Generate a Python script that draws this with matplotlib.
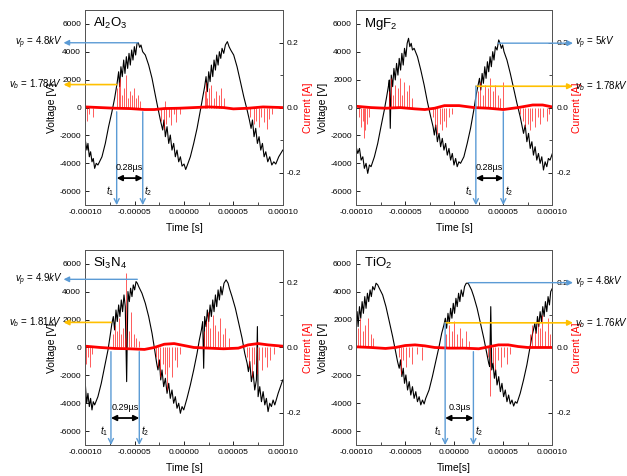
import numpy as np
import matplotlib.pyplot as plt
from matplotlib import ticker
from matplotlib.transforms import blended_transform_factory

plt.rcParams['font.family'] = ['Liberation Sans', 'DejaVu Sans']
plt.rcParams['mathtext.fontset'] = 'custom'
plt.rcParams['mathtext.rm'] = 'Liberation Sans'
plt.rcParams['mathtext.it'] = 'Liberation Sans:italic'
plt.rcParams['axes.unicode_minus'] = False

# time in units of 1e-5 s, voltage in kV, current in A

al_volt = [(-10.00, -2.33), (-9.83, -3.05), (-9.73, -2.57), (-9.59, -3.53), (-9.46, -3.17), (-9.32, -3.89),
           (-9.19, -3.65), (-9.05, -4.36), (-8.89, -4.00), (-8.72, -4.12), (-8.31, -3.53), (-7.97, -2.57),
           (-7.64, -1.37), (-7.30, -0.30), (-7.03, 0.66), (-6.79, 1.69), (-6.62, 2.57), (-6.52, 1.50),
           (-6.39, 2.93), (-6.25, 2.22), (-6.11, 3.41), (-5.98, 2.45), (-5.84, 3.65), (-5.71, 2.81),
           (-5.57, 3.89), (-5.44, 3.05), (-5.30, 4.13), (-5.17, 3.41), (-5.03, 4.37), (-4.90, 3.77),
           (-4.76, 4.61), (-4.63, 4.66), (-4.49, 4.32), (-4.36, 4.49), (-4.19, 4.01), (-3.92, 3.77),
           (-3.58, 3.05), (-3.24, 2.10), (-2.91, 0.90), (-2.64, -0.06), (-2.36, -1.01), (-2.16, -1.61),
           (-2.03, -0.89), (-1.89, -2.09), (-1.72, -1.37), (-1.55, -2.57), (-1.39, -1.97), (-1.22, -3.05),
           (-1.05, -2.57), (-0.88, -3.53), (-0.71, -3.05), (-0.54, -3.89), (-0.37, -3.53), (-0.20, -4.20),
           (0.00, -4.05), (0.17, -4.44), (0.34, -4.12), (0.64, -3.53), (0.98, -2.57), (1.32, -1.49),
           (1.66, -0.18), (1.89, 0.73), (2.09, 1.50), (2.23, 2.22), (2.36, 1.14), (2.50, 2.57),
           (2.64, 1.86), (2.77, 3.05), (2.91, 2.22), (3.04, 3.41), (3.18, 2.69), (3.31, 3.77),
           (3.45, 3.05), (3.58, 4.01), (3.72, 3.53), (3.85, 4.25), (4.02, 3.89), (4.19, 4.49),
           (4.39, 4.73), (4.56, 4.37), (4.73, 4.13), (5.03, 3.77), (5.37, 2.93), (5.71, 1.86),
           (6.05, 0.78), (6.39, -0.18), (6.62, -0.89), (6.79, -1.49), (6.93, -0.89), (7.09, -2.09),
           (7.26, -1.49), (7.43, -2.57), (7.60, -2.09), (7.77, -3.05), (7.94, -2.57), (8.11, -3.53),
           (8.28, -3.17), (8.48, -3.89), (8.68, -3.53), (8.89, -4.12), (9.09, -3.89), (9.29, -4.05),
           (9.59, -3.53), (10.00, -3.05)]
al_base = [(-10, 0.002), (-8.5, 0.0), (-7, -0.002), (-5.5, -0.003), (-4, -0.006), (-3, -0.006),
           (-2, -0.003), (-0.5, -0.002), (1, 0.0), (2.5, 0.002), (4, 0.0), (5, -0.004),
           (6.5, -0.002), (8, 0.002), (10, 0.0)]
al_spikes = [(-9.83, -0.04), (-9.59, -0.02), (-9.26, -0.03), (-6.79, 0.06), (-6.62, 0.08), (-6.45, 0.09),
             (-6.28, 0.04), (-6.11, 0.06), (-5.88, 0.10), (-5.68, 0.03), (-5.51, 0.05), (-5.27, 0.04),
             (-5.03, 0.06), (-4.86, 0.03), (-4.66, 0.04), (-4.43, 0.02), (-2.30, -0.04), (-2.06, -0.065),
             (-1.96, 0.02), (-1.82, -0.05), (-1.55, -0.03), (-1.28, -0.055), (-1.05, -0.02), (-0.81, -0.045),
             (-0.37, -0.02), (2.09, 0.05), (2.23, 0.08), (2.36, 0.03), (2.57, 0.06), (2.77, 0.07),
             (3.01, 0.03), (3.24, 0.05), (3.51, 0.04), (3.78, 0.06), (4.02, 0.03), (6.72, -0.03),
             (7.06, -0.05), (7.30, -0.04), (7.57, -0.06), (7.84, -0.03), (8.07, -0.045), (8.41, -0.065),
             (8.65, -0.035), (8.92, -0.02)]

mg_volt = [(-10.00, -2.81), (-9.83, -3.29), (-9.66, -2.93), (-9.49, -3.77), (-9.32, -3.53), (-9.16, -4.36),
           (-8.99, -4.00), (-8.82, -4.72), (-8.65, -4.12), (-8.48, -4.24), (-8.14, -3.53), (-7.80, -2.57),
           (-7.47, -1.37), (-7.13, -0.18), (-6.89, 0.78), (-6.69, 1.62), (-6.62, 1.98), (-6.52, -1.49),
           (-6.42, 2.33), (-6.28, 1.50), (-6.15, 2.81), (-6.01, 1.98), (-5.88, 3.17), (-5.74, 2.33),
           (-5.61, 3.53), (-5.47, 2.69), (-5.34, 3.89), (-5.20, 3.05), (-5.07, 4.25), (-4.93, 3.65),
           (-4.80, 4.61), (-4.66, 4.97), (-4.53, 4.37), (-4.39, 4.61), (-4.26, 4.13), (-4.09, 4.25),
           (-3.75, 3.65), (-3.41, 2.69), (-3.07, 1.62), (-2.74, 0.42), (-2.40, -0.66), (-2.16, -1.37),
           (-2.03, -1.97), (-1.89, -1.25), (-1.72, -2.45), (-1.55, -1.85), (-1.39, -2.81), (-1.22, -2.21),
           (-1.05, -3.05), (-0.88, -2.57), (-0.71, -3.41), (-0.54, -2.93), (-0.37, -3.77), (-0.20, -3.29),
           (-0.03, -4.12), (0.14, -3.65), (0.30, -4.24), (0.47, -3.89), (0.64, -4.00), (0.98, -3.53),
           (1.32, -2.57), (1.66, -1.49), (1.99, -0.18), (2.23, 0.90), (2.43, 1.62), (2.57, 2.10),
           (2.70, 1.26), (2.84, 2.45), (2.97, 1.74), (3.11, 2.93), (3.24, 2.10), (3.38, 3.29),
           (3.51, 2.57), (3.65, 3.65), (3.78, 2.93), (3.92, 4.01), (4.05, 3.41), (4.19, 4.37),
           (4.36, 4.13), (4.53, 4.85), (4.66, 4.61), (4.80, 4.25), (4.93, 4.49), (5.07, 4.01),
           (5.37, 3.41), (5.71, 2.45), (6.05, 1.38), (6.39, 0.30), (6.72, -0.66), (6.89, -1.25),
           (7.06, -1.85), (7.23, -1.25), (7.40, -2.45), (7.57, -1.85), (7.74, -2.93), (7.91, -2.45),
           (8.07, -3.41), (8.24, -2.81), (8.41, -3.77), (8.58, -3.29), (8.75, -4.00), (8.92, -3.53),
           (9.09, -4.48), (9.26, -3.89), (9.43, -4.24), (9.59, -3.65), (9.76, -3.77), (10.00, -3.29)]
mg_base = [(-10, 0.004), (-8.5, 0.0), (-7, -0.002), (-5.5, 0.0), (-4, -0.004), (-3, -0.006),
           (-2, -0.002), (-1, 0.006), (0.5, 0.006), (2, 0.0), (3.5, -0.002), (5, -0.006),
           (6.5, 0.0), (8, 0.008), (9, 0.008), (10, 0.002)]
mg_spikes = [(-9.73, -0.03), (-9.49, -0.06), (-9.26, -0.04), (-9.16, -0.095), (-9.05, -0.07), (-8.89, -0.05),
             (-8.65, -0.03), (-6.62, 0.05), (-6.45, 0.09), (-6.22, 0.04), (-6.01, 0.07), (-5.78, 0.06),
             (-5.54, 0.09), (-5.34, 0.04), (-5.10, 0.08), (-4.86, 0.05), (-4.59, 0.07), (-4.32, 0.03),
             (-2.16, -0.03), (-1.96, -0.06), (-1.72, -0.08), (-1.49, -0.05), (-1.28, -0.07), (-1.05, -0.04),
             (-0.81, -0.06), (-0.54, -0.03), (-0.20, -0.02), (2.43, 0.05), (2.67, 0.08), (2.91, 0.04),
             (3.18, 0.07), (3.45, 0.06), (3.68, 0.09), (3.92, 0.05), (4.19, 0.07), (4.46, 0.04),
             (4.70, 0.03), (4.93, 0.08), (6.72, -0.02), (6.96, -0.04), (7.23, -0.06), (7.50, -0.05),
             (7.74, -0.07), (7.97, -0.04), (8.24, -0.06), (8.51, -0.03), (8.78, -0.05), (9.09, -0.03),
             (9.43, -0.04), (9.66, -0.02)]

si_volt = [(-10.00, -2.57), (-9.86, -4.00), (-9.73, -3.29), (-9.59, -4.24), (-9.46, -3.65), (-9.32, -4.48),
           (-9.19, -3.89), (-9.05, -4.12), (-8.72, -3.53), (-8.38, -2.57), (-8.04, -1.37), (-7.70, -0.18),
           (-7.47, 0.90), (-7.30, 1.74), (-7.16, 2.22), (-7.03, 1.26), (-6.89, 2.69), (-6.76, 1.86),
           (-6.62, 3.05), (-6.49, 2.22), (-6.35, 3.41), (-6.22, 2.57), (-6.08, 3.77), (-5.95, 2.93),
           (-5.81, -2.45), (-5.68, 4.01), (-5.54, 3.29), (-5.41, 4.25), (-5.27, 3.65), (-5.14, 4.49),
           (-5.00, 4.13), (-4.86, 4.73), (-4.73, 4.61), (-4.59, 4.37), (-4.26, 3.89), (-3.92, 3.17),
           (-3.58, 2.22), (-3.24, 1.02), (-2.97, -0.18), (-2.77, -1.13), (-2.64, -1.61), (-2.50, -0.89),
           (-2.36, -2.33), (-2.23, -1.61), (-2.06, -2.81), (-1.89, -2.21), (-1.72, -3.29), (-1.55, -2.57),
           (-1.39, -3.65), (-1.22, -3.05), (-1.05, -4.00), (-0.88, -3.53), (-0.71, -4.36), (-0.54, -4.00),
           (-0.37, -4.72), (-0.20, -4.24), (-0.03, -4.48), (0.30, -3.65), (0.64, -2.69), (0.98, -1.61),
           (1.32, -0.42), (1.55, 0.54), (1.76, 1.26), (1.89, 1.86), (1.99, -1.49), (2.09, 2.22),
           (2.23, 1.50), (2.36, 2.69), (2.50, 1.86), (2.64, 3.05), (2.77, 2.22), (2.91, 3.41),
           (3.04, 2.57), (3.18, 3.77), (3.31, 2.93), (3.45, 4.13), (3.58, 3.41), (3.72, 4.37),
           (3.85, 3.77), (4.05, 4.61), (4.26, 4.85), (4.46, 4.61), (4.59, 4.25), (4.86, 3.65),
           (5.20, 2.81), (5.54, 1.74), (5.88, 0.66), (6.15, -0.42), (6.39, -1.13), (6.52, -1.73),
           (6.66, -1.01), (6.82, -2.45), (6.99, -1.73), (7.16, -3.05), (7.33, -2.33), (7.43, 1.50),
           (7.50, -3.53), (7.67, -2.81), (7.84, -3.89), (8.01, -3.17), (8.18, -4.12), (8.34, -3.65),
           (8.51, -4.60), (8.68, -4.00), (8.85, -4.24), (9.02, -3.77), (9.19, -4.12), (9.53, -3.29),
           (10.00, -2.33)]
si_base = [(-10, 0.004), (-8.5, 0.0), (-7, -0.003), (-5.5, -0.004), (-4, -0.006), (-3, 0.0),
           (-2, 0.010), (-1, 0.012), (0, 0.006), (1, 0.0), (2.5, -0.002), (4, -0.004),
           (5.5, -0.002), (6.5, 0.008), (7.5, 0.012), (8.5, 0.008), (10, 0.004)]
si_spikes = [(-9.90, -0.05), (-9.73, -0.03), (-9.53, -0.06), (-9.32, -0.02), (-7.23, 0.04), (-7.03, 0.07),
             (-6.79, 0.05), (-6.62, 0.09), (-6.42, 0.04), (-6.22, 0.06), (-6.01, 0.03), (-5.84, 0.23),
             (-5.61, 0.05), (-5.34, 0.11), (-5.10, 0.04), (-4.86, 0.03), (-4.59, 0.02), (-2.84, -0.03),
             (-2.64, -0.06), (-2.40, -0.09), (-2.16, -0.05), (-1.96, -0.08), (-1.72, -0.13), (-1.49, -0.06),
             (-1.22, -0.09), (-0.95, -0.04), (-0.71, -0.06), (-0.37, -0.02), (1.99, 0.05), (2.23, 0.08),
             (2.43, 0.11), (2.67, 0.06), (2.91, 0.10), (3.18, 0.07), (3.45, 0.05), (3.68, 0.09),
             (3.92, 0.04), (4.19, 0.06), (4.53, 0.03), (6.39, -0.03), (6.62, -0.06), (6.89, -0.09),
             (7.13, -0.05), (7.40, -0.08), (7.64, -0.04), (7.91, -0.07), (8.18, -0.03), (8.41, -0.06),
             (8.75, -0.04), (9.09, -0.02)]

ti_volt = [(-10.00, 1.86), (-9.90, 2.57), (-9.80, 1.50), (-9.66, 2.93), (-9.53, 2.10), (-9.39, 3.29),
           (-9.26, 2.45), (-9.12, 3.65), (-8.99, 2.81), (-8.85, 3.89), (-8.72, 3.29), (-8.58, 4.13),
           (-8.45, 3.65), (-8.31, 4.37), (-8.14, 4.13), (-7.97, 4.61), (-7.80, 4.49), (-7.64, 4.25),
           (-7.30, 3.77), (-6.96, 2.93), (-6.62, 1.86), (-6.28, 0.78), (-6.01, -0.18), (-5.78, -1.01),
           (-5.61, -1.49), (-5.47, -0.89), (-5.34, -2.09), (-5.20, -1.49), (-5.07, -2.57), (-4.93, -1.97),
           (-4.76, -3.05), (-4.59, -2.45), (-4.43, -3.41), (-4.26, -2.81), (-4.09, -3.65), (-3.92, -3.17),
           (-3.75, -3.89), (-3.58, -3.53), (-3.41, -4.12), (-3.24, -3.77), (-3.07, -4.05), (-2.91, -3.65),
           (-2.57, -3.05), (-2.23, -2.09), (-1.89, -1.01), (-1.55, 0.06), (-1.28, 1.02), (-1.05, 1.62),
           (-0.91, 2.10), (-0.78, 1.38), (-0.64, 2.45), (-0.51, 1.74), (-0.37, 2.81), (-0.24, 2.10),
           (-0.10, 3.17), (0.03, 2.45), (0.17, 3.53), (0.30, 2.93), (0.44, 3.89), (0.57, 3.29),
           (0.71, 4.13), (0.88, 3.65), (1.05, 4.37), (1.22, 4.61), (1.42, 4.61), (1.59, 4.37),
           (1.76, 4.13), (1.99, 3.65), (2.33, 2.81), (2.67, 1.74), (3.01, 0.66), (3.28, -0.30),
           (3.51, -1.13), (3.61, -1.37), (3.72, 2.93), (3.82, -1.61), (3.95, -1.13), (4.09, -2.21),
           (4.22, -1.61), (4.36, -2.69), (4.53, -2.09), (4.70, -3.17), (4.86, -2.57), (5.03, -3.53),
           (5.20, -3.05), (5.37, -3.89), (5.54, -3.41), (5.71, -4.05), (5.88, -3.77), (6.05, -4.20),
           (6.22, -3.89), (6.39, -4.00), (6.72, -3.29), (7.06, -2.33), (7.40, -1.25), (7.67, -0.18),
           (7.91, 0.78), (8.07, 1.26), (8.21, 1.74), (8.34, 1.02), (8.48, 2.22), (8.61, 1.50),
           (8.75, 2.57), (8.89, 1.86), (9.02, 2.93), (9.16, 2.22), (9.29, 3.29), (9.43, 2.57),
           (9.56, 3.65), (9.70, 3.05), (9.83, 4.01), (10.00, 4.25)]
ti_base = [(-10, 0.002), (-8.5, 0.0), (-7, -0.003), (-6, 0.0), (-5, 0.006), (-4, 0.008),
           (-3, 0.005), (-2, 0.0), (-0.5, -0.002), (1, -0.002), (2.5, -0.004), (3.5, 0.002),
           (4.5, 0.008), (5.5, 0.008), (6.5, 0.003), (7.5, 0.0), (9, 0.0), (10, 0.0)]
ti_spikes = [(-9.83, 0.06), (-9.59, 0.09), (-9.32, 0.05), (-9.05, 0.07), (-8.82, 0.09), (-8.51, 0.04),
             (-8.24, 0.03), (-5.68, -0.03), (-5.44, -0.08), (-5.20, -0.04), (-4.93, -0.06), (-4.59, -0.03),
             (-4.26, -0.05), (-3.75, -0.02), (-3.24, -0.04), (-0.81, 0.04), (-0.54, 0.07), (-0.27, 0.05),
             (0.00, 0.08), (0.27, 0.04), (0.54, 0.06), (0.81, 0.03), (1.15, 0.05), (1.49, 0.02),
             (3.45, -0.03), (3.68, -0.15), (3.92, -0.05), (4.19, -0.07), (4.46, -0.04), (4.73, -0.06),
             (5.03, -0.03), (5.37, -0.05), (5.71, -0.02), (7.74, 0.04), (7.97, 0.07), (8.24, 0.05),
             (8.51, 0.08), (8.75, 0.06), (8.99, 0.10), (9.26, 0.05), (9.53, 0.09), (9.76, 0.04)]

materials = ['Al$_2$O$_3$', 'MgF$_2$', 'Si$_3$N$_4$', 'TiO$_2$']
vp_text = ['4.8', '5', '4.9', '4.8']
vb_text = ['1.78', '1.78', '1.81', '1.76']
dt_text = ['0.28', '0.28', '0.29', '0.3']
t_peak = [-4.63, 4.47, -4.73, 1.44]
vp_level = [4.65, 4.62, 4.89, 4.65]
vb_level = [1.65, 1.53, 1.80, 1.77]
t1 = [-6.82, 2.20, -7.40, -0.93]
t2 = [-4.18, 5.00, -4.53, 1.95]
time_labels = ['Time [s]', 'Time [s]', 'Time [s]', 'Time[s]']

volts = [al_volt, mg_volt, si_volt, ti_volt]
bases = [al_base, mg_base, si_base, ti_base]
spikes = [al_spikes, mg_spikes, si_spikes, ti_spikes]

BLUE = '#5B9BD5'
GOLD = '#FFC000'
FRAME = '#555555'

fig = plt.figure(figsize=(6.27, 4.76), dpi=100)
positions = [[0.136, 0.569, 0.315, 0.410], [0.568, 0.569, 0.313, 0.410],
             [0.136, 0.065, 0.315, 0.410], [0.568, 0.065, 0.313, 0.410]]

for i in range(4):
    ax = fig.add_axes(positions[i])
    t, v = zip(*volts[i])
    ax.plot(np.array(t) * 1e-5, np.array(v) * 1000, color='black', lw=0.8)
    ax.set_xlim(-1e-4, 1e-4)
    ax.set_ylim(-7000, 7000)
    ax.set_yticks(np.arange(-6000, 6001, 2000))
    ax.set_xticks([-1e-4, -5e-5, 0, 5e-5, 1e-4])
    ax.xaxis.set_major_formatter(ticker.FormatStrFormatter('%.5f'))
    ax.xaxis.set_minor_locator(ticker.MultipleLocator(2.5e-5))
    ax.tick_params(direction='in', length=3, width=0.6, labelsize=6, pad=3)
    ax.tick_params(which='minor', direction='in', length=2, width=0.5)
    ax.set_ylabel('Voltage [V]', fontsize=7.5, labelpad=2)
    ax.set_xlabel(time_labels[i], fontsize=7.5, labelpad=5)
    ax.text(0.04, 0.93, materials[i], transform=ax.transAxes, fontsize=9.5, va='center')

    ax2 = ax.twinx()
    bt, bi = zip(*bases[i])
    ax2.plot(np.array(bt) * 1e-5, bi, color='red', lw=2.0)
    st, si = zip(*spikes[i])
    ax2.vlines(np.array(st) * 1e-5, 0, si, color='red', lw=0.6, alpha=0.75)
    ax2.set_ylim(-0.3, 0.3)
    ax2.set_yticks([-0.2, 0.0, 0.2])
    ax2.yaxis.set_major_formatter(ticker.FormatStrFormatter('%.1f'))
    ax2.yaxis.set_minor_locator(ticker.MultipleLocator(0.1))
    ax2.tick_params(direction='in', length=3, width=0.6, labelsize=6, pad=3)
    ax2.tick_params(which='minor', direction='in', length=2, width=0.5)
    ax2.set_ylabel('Current [A]', color='red', fontsize=7.5, labelpad=1)
    for a in (ax, ax2):
        for s in a.spines.values():
            s.set_color(FRAME)
            s.set_linewidth(0.7)

    tr = blended_transform_factory(ax.transAxes, ax.transData)
    left = i in (0, 2)
    x_end = -0.11 if left else 1.105
    x_txt = -0.115 if left else 1.115
    ha = 'right' if left else 'left'
    lab_font = dict(fontsize=7, va='center', ha=ha, clip_on=False)

    ax2.annotate('', xy=(x_end, vp_level[i] * 1000), xycoords=tr,
                 xytext=(t_peak[i] * 1e-5, vp_level[i] * 1000), textcoords=ax.transData,
                 arrowprops=dict(arrowstyle='-|>', color=BLUE, lw=1.0, shrinkA=0, shrinkB=0,
                                 mutation_scale=8), annotation_clip=False)
    ax2.text(x_txt, vp_level[i] * 1000,
             r'$v_p$ = ' + vp_text[i] + r'$kV$', transform=tr, **lab_font)
    ax2.annotate('', xy=(x_end, vb_level[i] * 1000), xycoords=tr,
                 xytext=(t1[i] * 1e-5, vb_level[i] * 1000), textcoords=ax.transData,
                 arrowprops=dict(arrowstyle='-|>', color=GOLD, lw=1.2, shrinkA=0, shrinkB=0,
                                 mutation_scale=8), annotation_clip=False)
    ax2.text(x_txt, vb_level[i] * 1000,
             r'$v_b$ = ' + vb_text[i] + r'$kV$', transform=tr, **lab_font)

    y_start1 = -300 if left else vb_level[i] * 1000
    for tt, ys in ((t1[i], y_start1), (t2[i], -300)):
        ax2.annotate('', xy=(tt * 1e-5, -7000), xycoords=ax.transData,
                     xytext=(tt * 1e-5, ys), textcoords=ax.transData,
                     arrowprops=dict(arrowstyle='->', color=BLUE, lw=1.0, shrinkA=0, shrinkB=0,
                                     mutation_scale=9), annotation_clip=False)
    ax2.annotate('', xy=(t1[i] * 1e-5, -5060), xycoords=ax.transData,
                 xytext=(t2[i] * 1e-5, -5060), textcoords=ax.transData,
                 arrowprops=dict(arrowstyle='<|-|>', color='black', lw=1.3, shrinkA=0, shrinkB=0,
                                 mutation_scale=8))
    ax2.text((t1[i] + t2[i]) / 2 * 1e-5, -4300, dt_text[i] + 'µs', transform=ax.transData,
             fontsize=6.5, ha='center', va='center')
    ax2.text(t1[i] * 1e-5 - 0.25e-5, -6000, r'$t_1$', transform=ax.transData,
             fontsize=7, ha='right', va='center')
    ax2.text(t2[i] * 1e-5 + 0.15e-5, -6000, r'$t_2$', transform=ax.transData,
             fontsize=7, ha='left', va='center')

fig.savefig('out.png', dpi=100)
